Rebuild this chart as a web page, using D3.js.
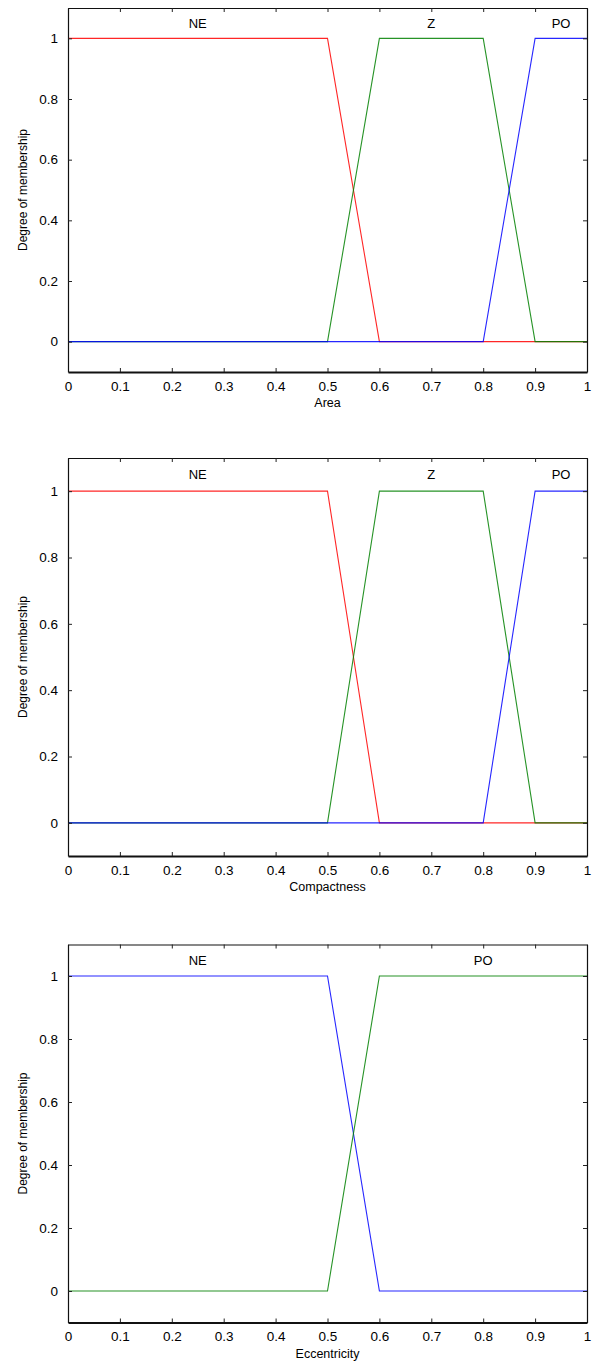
<!DOCTYPE html>
<html>
<head>
<meta charset="utf-8">
<script src="https://cdn.jsdelivr.net/npm/d3@7"></script>
<style>
body { margin: 0; background: #fff; }
text { font-family: "Liberation Sans", Arial, sans-serif; fill: #000; }
</style>
</head>
<body>
<div id="chart-container"></div>
<script>
// Tick values and labels shared by all three panels.
const xTicks = [0, 0.1, 0.2, 0.3, 0.4, 0.5, 0.6, 0.7, 0.8, 0.9, 1];
const xTickLabels = ["0", "0.1", "0.2", "0.3", "0.4", "0.5", "0.6", "0.7", "0.8", "0.9", "1"];
const yTicks = [0, 0.2, 0.4, 0.6, 0.8, 1];
const yTickLabels = ["0", "0.2", "0.4", "0.6", "0.8", "1"];

const axisTitles = ["Area", "Compactness", "Eccentricity"];
const yTitle = "Degree of membership";

// Membership function breakpoints [x, degree].
const areaNE = [[0, 1], [0.5, 1], [0.6, 0], [1, 0]];
const areaZ = [[0, 0], [0.5, 0], [0.6, 1], [0.8, 1], [0.9, 0], [1, 0]];
const areaPO = [[0, 0], [0.8, 0], [0.9, 1], [1, 1]];

const compactNE = [[0, 1], [0.5, 1], [0.6, 0], [1, 0]];
const compactZ = [[0, 0], [0.5, 0], [0.6, 1], [0.8, 1], [0.9, 0], [1, 0]];
const compactPO = [[0, 0], [0.8, 0], [0.9, 1], [1, 1]];

const eccNE = [[0, 1], [0.5, 1], [0.6, 0], [1, 0]];
const eccPO = [[0, 0], [0.5, 0], [0.6, 1], [1, 1]];

// Where the set names sit along x.
const threeSetNames = ["NE", "Z", "PO"];
const threeSetLabelX = [0.25, 0.7, 0.95];
const twoSetNames = ["NE", "PO"];
const twoSetLabelX = [0.25, 0.8];

const chartWidth = 592;
const chartHeight = 1363;
const plotLeft = 68;
const plotRight = 587;
const tickLen = 4;

const panels = [
    {title: axisTitles[0], top: 8, bottom: 372,
     series: [areaNE, areaZ, areaPO], colors: ["#ff0000", "#008000", "#0000ff"],
     names: threeSetNames, labelX: threeSetLabelX},
    {title: axisTitles[1], top: 458, bottom: 856,
     series: [compactNE, compactZ, compactPO], colors: ["#ff0000", "#008000", "#0000ff"],
     names: threeSetNames, labelX: threeSetLabelX},
    {title: axisTitles[2], top: 944.5, bottom: 1322.5,
     series: [eccNE, eccPO], colors: ["#0000ff", "#008000"],
     names: twoSetNames, labelX: twoSetLabelX}
];

const chart = d3.select("#chart-container").append("svg")
    .attr("width", chartWidth)
    .attr("height", chartHeight);

const x = d3.scaleLinear()
    .domain([0, 1])
    .range([plotLeft, plotRight]);

panels.forEach(p => {
    const y = d3.scaleLinear()
        .domain([-0.1, 1.1])
        .range([p.bottom, p.top]);

    const g = chart.append("g");

    // curves
    const line = d3.line()
        .x(d => x(d[0]))
        .y(d => y(d[1]));

    p.series.forEach((s, i) => {
        g.append("path")
            .datum(s)
            .attr("d", line)
            .attr("fill", "none")
            .attr("stroke", p.colors[i])
            .attr("stroke-opacity", 0.85)
            .attr("stroke-width", 1.1);
    });

    // set names
    p.names.forEach((n, i) => {
        g.append("text")
            .attr("x", x(p.labelX[i]))
            .attr("y", y(1.05))
            .attr("dy", "0.35em")
            .attr("text-anchor", "middle")
            .attr("font-size", 13)
            .text(n);
    });

    // axes with inward ticks
    const bottomAxis = g.append("g")
        .attr("transform", `translate(0, ${p.bottom})`)
        .call(d3.axisBottom(x).tickValues(xTicks)
            .tickFormat((d, i) => xTickLabels[i])
            .tickSizeInner(-tickLen).tickSizeOuter(0).tickPadding(9));
    const topAxis = g.append("g")
        .attr("transform", `translate(0, ${p.top})`)
        .call(d3.axisTop(x).tickValues(xTicks)
            .tickFormat("").tickSizeInner(-tickLen).tickSizeOuter(0));
    const leftAxis = g.append("g")
        .attr("transform", `translate(${plotLeft}, 0)`)
        .call(d3.axisLeft(y).tickValues(yTicks)
            .tickFormat((d, i) => yTickLabels[i])
            .tickSizeInner(-tickLen).tickSizeOuter(0).tickPadding(10));
    const rightAxis = g.append("g")
        .attr("transform", `translate(${plotRight}, 0)`)
        .call(d3.axisRight(y).tickValues(yTicks)
            .tickFormat("").tickSizeInner(-tickLen).tickSizeOuter(0));

    [bottomAxis, topAxis, leftAxis, rightAxis].forEach(a => {
        a.selectAll("text")
            .attr("font-family", null)
            .attr("font-size", 13.5);
        a.selectAll("line").attr("stroke", "#222");
        a.select(".domain").attr("stroke", "#111").attr("stroke-width", 1.2);
    });
    bottomAxis.select(".domain").attr("stroke-width", 2);

    // axis titles
    g.append("text")
        .attr("x", x(0.5))
        .attr("y", p.bottom + 31)
        .attr("dy", "0.35em")
        .attr("text-anchor", "middle")
        .attr("font-size", 12.5)
        .text(p.title);

    g.append("text")
        .attr("transform", `translate(27, ${(p.top + p.bottom) / 2}) rotate(-90)`)
        .attr("text-anchor", "middle")
        .attr("font-size", 12)
        .text(yTitle);
});
</script>
</body>
</html>
